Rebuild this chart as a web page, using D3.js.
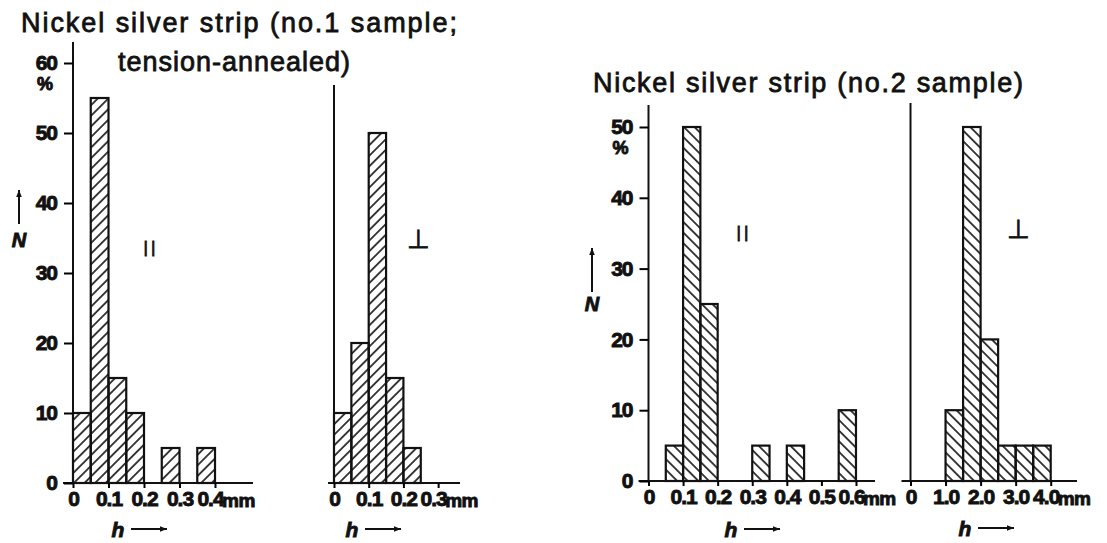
<!DOCTYPE html>
<html lang="en">
  <head>
    <meta charset="utf-8">
    <title>Nickel silver strip</title>
    <script src="https://d3js.org/d3.v7.min.js"></script>
    <style>
      body { margin: 0; background: #fff; }
      text { font-family: "Liberation Sans", Arial, sans-serif; fill: #111; }
      .grosso { stroke: #111; stroke-width: 0.9px; }
      .medio { stroke: #111; stroke-width: 0.8px; }
    </style>
  </head>
  <body>
    <div id="grafico"></div>
    <script>
      // bin start (mm) and share N (%) for each histogram
      const binsNo1Par = [0, 0.05, 0.1, 0.15, 0.25, 0.35]
      const pctNo1Par = [10, 55, 15, 10, 5, 5]
      const binsNo1Perp = [0, 0.05, 0.1, 0.15, 0.2]
      const pctNo1Perp = [10, 20, 50, 15, 5]
      const binsNo2Par = [0.05, 0.1, 0.15, 0.3, 0.4, 0.55]
      const pctNo2Par = [5, 50, 25, 5, 5, 10]
      const binsNo2Perp = [1.0, 1.5, 2.0, 2.5, 3.0, 3.5]
      const pctNo2Perp = [10, 50, 20, 5, 5, 5]

      // tick values
      const ticksNo1Par = [0, 0.1, 0.2, 0.3, 0.4]
      const ticksNo1Perp = [0, 0.1, 0.2, 0.3]
      const ticksNo2Par = [0, 0.1, 0.2, 0.3, 0.4, 0.5, 0.6]
      const ticksNo2Perp = [0, 1, 2, 3, 4]
      const ticksPctNo1 = [0, 10, 20, 30, 40, 50, 60]
      const ticksPctNo2 = [0, 10, 20, 30, 40, 50]

      const tituloNo1 = ['Nickel silver strip (no.1 sample;', 'tension-annealed)']
      const tituloNo2 = 'Nickel silver strip (no.2 sample)'

      const largura = 1107,
            altura = 543

      const svg = d3.select('#grafico')
        .append('svg')
          .attr('width', largura)
          .attr('height', altura)

      const defs = svg.append('defs')

      // hatching: 'barra' = /, 'contra' = \
      function hachura(id, angulo) {
        defs.append('pattern')
            .attr('id', id)
            .attr('patternUnits', 'userSpaceOnUse')
            .attr('width', 7.5)
            .attr('height', 7.5)
            .attr('patternTransform', `rotate(${angulo})`)
          .append('line')
            .attr('x1', 3.75).attr('x2', 3.75)
            .attr('y1', 0).attr('y2', 7.5)
            .attr('stroke', '#111')
            .attr('stroke-width', 1.6)
      }
      hachura('barra', 45)
      hachura('contra', -45)

      defs.append('marker')
          .attr('id', 'seta')
          .attr('viewBox', '0 0 10 10')
          .attr('refX', 10).attr('refY', 5)
          .attr('markerUnits', 'userSpaceOnUse')
          .attr('markerWidth', 12).attr('markerHeight', 7)
          .attr('orient', 'auto')
        .append('path')
          .attr('d', 'M0,1 L10,5 L0,9 Z')
          .attr('fill', '#111')

      const paineis = [
        { bins: binsNo1Par, pct: pctNo1Par, passo: 0.05, ticks: ticksNo1Par,
          dom: [0, 0.507], rng: [73, 253], domY: [0, 60], rngY: [483, 63],
          topo: 42, recuo: 10, padrao: 'barra', yTicks: ticksPctNo1,
          simbolo: '||', simb: [151, 253], h: [118, 529] },
        { bins: binsNo1Perp, pct: pctNo1Perp, passo: 0.05, ticks: ticksNo1Perp,
          dom: [0, 0.363], rng: [334, 460], domY: [0, 60], rngY: [483, 63],
          topo: 85, recuo: 6, padrao: 'barra', yTicks: null,
          simbolo: '⊥', simb: [418, 248], h: [352, 529] },
        { bins: binsNo2Par, pct: pctNo2Par, passo: 0.05, ticks: ticksNo2Par,
          dom: [0, 0.655], rng: [648.5, 875], domY: [0, 50], rngY: [481, 127],
          topo: 105, recuo: 10, padrao: 'contra', yTicks: ticksPctNo2,
          simbolo: '||', simb: [744, 238], h: [731, 529] },
        { bins: binsNo2Perp, pct: pctNo2Perp, passo: 0.5, ticks: ticksNo2Perp,
          dom: [0, 4.75], rng: [910.5, 1077], domY: [0, 50], rngY: [481, 127],
          topo: 103, recuo: 9, padrao: 'contra', yTicks: null,
          simbolo: '⊥', simb: [1018, 238], h: [965, 528] }
      ]

      const formato = d => d === 0 ? '0' : d.toFixed(1)

      paineis.forEach(p => {
        const x = d3.scaleLinear().domain(p.dom).range(p.rng)
        const y = d3.scaleLinear().domain(p.domY).range(p.rngY)
        const g = svg.append('g')

        g.selectAll('rect')
          .data(p.bins.map((b, i) => ({ b, v: p.pct[i] })))
          .join('rect')
            .attr('x', d => x(d.b))
            .attr('width', d => x(d.b + p.passo) - x(d.b))
            .attr('y', d => y(d.v))
            .attr('height', d => y(0) - y(d.v))
            .attr('fill', `url(#${p.padrao})`)
            .attr('stroke', '#111')
            .attr('stroke-width', 2.2)

        // vertical axis and baseline
        g.append('line')
          .attr('x1', x(0)).attr('x2', x(0))
          .attr('y1', p.topo).attr('y2', y(0))
          .attr('stroke', '#111').attr('stroke-width', 2)
        g.append('line')
          .attr('x1', x(0) - p.recuo).attr('x2', p.rng[1])
          .attr('y1', y(0)).attr('y2', y(0))
          .attr('stroke', '#111').attr('stroke-width', 2)

        const eixoX = g.append('g')
          .attr('transform', `translate(0, ${y(0)})`)
          .call(d3.axisBottom(x)
            .tickValues(p.ticks)
            .tickSize(5)
            .tickPadding(3)
            .tickFormat(formato))
        eixoX.select('.domain').remove()
        eixoX.selectAll('line').attr('stroke-width', 2)
        eixoX.selectAll('text')
          .attr('class', 'grosso')
          .attr('font-size', 21)
          .attr('font-weight', 'bold')
          .attr('font-family', '"Liberation Sans", Arial, sans-serif')
          .attr('letter-spacing', -1)
        eixoX.selectAll('.tick:last-of-type text').attr('dx', -5)

        const ultimo = p.ticks[p.ticks.length - 1]
        g.append('text')
          .attr('class', 'grosso')
          .attr('x', x(ultimo) + 7)
          .attr('y', y(0) + 24)
          .attr('font-size', 19)
          .attr('font-weight', 'bold')
          .attr('letter-spacing', -0.5)
          .text('mm')

        if (p.yTicks) {
          const eixoY = g.append('g')
            .attr('transform', `translate(${x(0)}, 0)`)
            .call(d3.axisLeft(y)
              .tickValues(p.yTicks)
              .tickSize(9)
              .tickPadding(7))
          eixoY.select('.domain').remove()
          eixoY.selectAll('line').attr('stroke-width', 2)
          eixoY.selectAll('text')
            .attr('class', 'grosso')
            .attr('font-size', 21)
            .attr('font-weight', 'bold')
            .attr('font-family', '"Liberation Sans", Arial, sans-serif')
            .attr('letter-spacing', -1)

          const topoY = d3.max(p.yTicks)
          g.append('text')
            .attr('class', 'grosso')
            .attr('x', x(0) - 28)
            .attr('y', y(topoY) + 27)
            .attr('text-anchor', 'middle')
            .attr('font-size', 18)
            .attr('font-weight', 'bold')
            .text('%')
        }

        // direction symbol
        g.append('text')
          .attr('class', 'medio')
          .attr('x', p.simb[0])
          .attr('y', p.simb[1])
          .attr('text-anchor', 'middle')
          .attr('font-family', '"DejaVu Sans", sans-serif')
          .attr('font-size', p.simbolo === '⊥' ? 26 : 17)
          .attr('letter-spacing', p.simbolo === '⊥' ? 0 : 3)
          .text(p.simbolo)

        // h ->
        g.append('text')
          .attr('class', 'grosso')
          .attr('x', p.h[0])
          .attr('y', p.h[1] + 8)
          .attr('text-anchor', 'middle')
          .attr('font-size', 21)
          .attr('font-weight', 'bold')
          .attr('font-style', 'italic')
          .text('h')
        g.append('line')
          .attr('x1', p.h[0] + 13).attr('x2', p.h[0] + 49)
          .attr('y1', p.h[1]).attr('y2', p.h[1])
          .attr('stroke', '#111').attr('stroke-width', 1.8)
          .attr('marker-end', 'url(#seta)')
      })

      // N with arrow, left of each first panel
      const rotulosN = [
        { x: 19, y0: 224, y1: 190, n: 247 },
        { x: 592, y0: 292, y1: 248, n: 311 }
      ]
      rotulosN.forEach(r => {
        svg.append('line')
          .attr('x1', r.x).attr('x2', r.x)
          .attr('y1', r.y0).attr('y2', r.y1)
          .attr('stroke', '#111').attr('stroke-width', 2)
          .attr('marker-end', 'url(#seta)')
        svg.append('text')
          .attr('class', 'grosso')
          .attr('x', r.x)
          .attr('y', r.n)
          .attr('text-anchor', 'middle')
          .attr('font-size', 20)
          .attr('font-weight', 'bold')
          .attr('font-style', 'italic')
          .text('N')
      })

      // titles
      svg.append('text')
        .attr('class', 'medio')
        .attr('x', 21).attr('y', 32)
        .attr('font-size', 27)
        .attr('textLength', 436).attr('lengthAdjust', 'spacing')
        .text(tituloNo1[0])
      svg.append('text')
        .attr('class', 'medio')
        .attr('x', 118).attr('y', 71)
        .attr('font-size', 27)
        .attr('textLength', 232).attr('lengthAdjust', 'spacing')
        .text(tituloNo1[1])
      svg.append('text')
        .attr('class', 'medio')
        .attr('x', 593).attr('y', 92)
        .attr('font-size', 27)
        .attr('textLength', 430).attr('lengthAdjust', 'spacing')
        .text(tituloNo2)
    </script>
  </body>
</html>
